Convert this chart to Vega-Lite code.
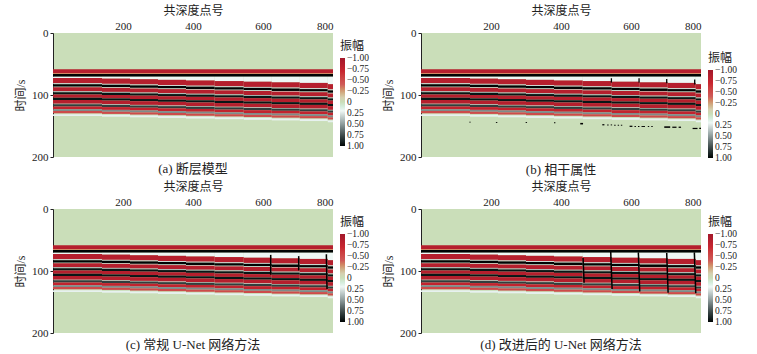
{
"$schema": "https://vega.github.io/schema/vega-lite/v6.json",
"padding": {"left": 14, "top": 4, "right": 2, "bottom": 1},
"background": "white",
"config": {
  "font": "Liberation Serif, Noto Sans CJK SC",
  "view": {"fill": "#cadeb9", "stroke": null},
  "axis": {"grid": false, "labelFontSize": 11, "titleFontSize": 12, "titleFontWeight": "normal", "labelColor": "#222", "titleColor": "#222", "domainColor": "#222", "tickColor": "#222"},
  "legend": {"labelFontSize": 9.5, "titleFontSize": 12, "titleFontWeight": "normal", "labelColor": "#222", "titleColor": "#222", "labelOverlap": false, "gradientStrokeWidth": 0, "gradientLength": 88, "gradientThickness": 5, "labelOffset": 5},
  "title": {"fontSize": 13, "fontWeight": "normal", "color": "#222", "orient": "bottom", "frame": "group", "anchor": "middle", "offset": 1}
},
"datasets": {
"blocks": [{"k":-1,"x0":0,"x1":800},{"k":0,"x0":0,"x1":140},{"k":1,"x0":140,"x1":220},{"k":2,"x0":220,"x1":300},{"k":3,"x0":300,"x1":380},{"k":4,"x0":380,"x1":462},{"k":5,"x0":462,"x1":545},{"k":6,"x0":545,"x1":625},{"k":7,"x0":625,"x1":705},{"k":8,"x0":705,"x1":785},{"k":9,"x0":785,"x1":800}],
"stripes": [
{"k":-1,"t0":58.5,"t1":64.5,"a":-0.85},{"k":-1,"t0":64.5,"t1":66,"a":-0.3},{"k":-1,"t0":66,"t1":70.5,"a":1},
{"k":0,"t0":70.5,"t1":72.5,"a":0.2},{"k":1,"t0":70.5,"t1":73.5,"a":0.2},{"k":2,"t0":70.5,"t1":74.5,"a":0.2},{"k":3,"t0":70.5,"t1":75.5,"a":0.2},{"k":4,"t0":70.5,"t1":76.5,"a":0.2},{"k":5,"t0":70.5,"t1":77.5,"a":0.2},{"k":6,"t0":70.5,"t1":78.5,"a":0.2},{"k":7,"t0":70.5,"t1":79.5,"a":0.2},{"k":8,"t0":70.5,"t1":80.5,"a":0.2},{"k":9,"t0":70.5,"t1":82.5,"a":0.2},
{"k":0,"t0":72.5,"t1":81,"a":-0.85},{"k":0,"t0":81,"t1":82.5,"a":0.3},{"k":0,"t0":82.5,"t1":86.5,"a":1},{"k":0,"t0":86.5,"t1":87.5,"a":0.15},{"k":0,"t0":87.5,"t1":94,"a":-0.85},{"k":0,"t0":94,"t1":95.5,"a":0.4},{"k":0,"t0":95.5,"t1":99,"a":0.95},{"k":0,"t0":99,"t1":104.5,"a":-0.85},{"k":0,"t0":104.5,"t1":108,"a":0.95},{"k":0,"t0":108,"t1":114,"a":-0.85},{"k":0,"t0":114,"t1":115,"a":0.35},{"k":0,"t0":115,"t1":118.5,"a":0.8},{"k":0,"t0":118.5,"t1":123,"a":-0.75},{"k":0,"t0":123,"t1":126,"a":0.55},{"k":0,"t0":126,"t1":129.5,"a":-0.5},{"k":0,"t0":131,"t1":134,"a":0.22},
{"k":1,"t0":73.5,"t1":82,"a":-0.85},{"k":1,"t0":82,"t1":83.5,"a":0.3},{"k":1,"t0":83.5,"t1":87.5,"a":1},{"k":1,"t0":87.5,"t1":88.5,"a":0.15},{"k":1,"t0":88.5,"t1":95,"a":-0.85},{"k":1,"t0":95,"t1":96.5,"a":0.4},{"k":1,"t0":96.5,"t1":100,"a":0.95},{"k":1,"t0":100,"t1":105.5,"a":-0.85},{"k":1,"t0":105.5,"t1":109,"a":0.95},{"k":1,"t0":109,"t1":115,"a":-0.85},{"k":1,"t0":115,"t1":116,"a":0.35},{"k":1,"t0":116,"t1":119.5,"a":0.8},{"k":1,"t0":119.5,"t1":124,"a":-0.75},{"k":1,"t0":124,"t1":127,"a":0.55},{"k":1,"t0":127,"t1":130.5,"a":-0.5},{"k":1,"t0":132,"t1":135,"a":0.22},
{"k":2,"t0":74.5,"t1":83,"a":-0.85},{"k":2,"t0":83,"t1":84.5,"a":0.3},{"k":2,"t0":84.5,"t1":88.5,"a":1},{"k":2,"t0":88.5,"t1":89.5,"a":0.15},{"k":2,"t0":89.5,"t1":96,"a":-0.85},{"k":2,"t0":96,"t1":97.5,"a":0.4},{"k":2,"t0":97.5,"t1":101,"a":0.95},{"k":2,"t0":101,"t1":106.5,"a":-0.85},{"k":2,"t0":106.5,"t1":110,"a":0.95},{"k":2,"t0":110,"t1":116,"a":-0.85},{"k":2,"t0":116,"t1":117,"a":0.35},{"k":2,"t0":117,"t1":120.5,"a":0.8},{"k":2,"t0":120.5,"t1":125,"a":-0.75},{"k":2,"t0":125,"t1":128,"a":0.55},{"k":2,"t0":128,"t1":131.5,"a":-0.5},{"k":2,"t0":133,"t1":136,"a":0.22},
{"k":3,"t0":75.5,"t1":84,"a":-0.85},{"k":3,"t0":84,"t1":85.5,"a":0.3},{"k":3,"t0":85.5,"t1":89.5,"a":1},{"k":3,"t0":89.5,"t1":90.5,"a":0.15},{"k":3,"t0":90.5,"t1":97,"a":-0.85},{"k":3,"t0":97,"t1":98.5,"a":0.4},{"k":3,"t0":98.5,"t1":102,"a":0.95},{"k":3,"t0":102,"t1":107.5,"a":-0.85},{"k":3,"t0":107.5,"t1":111,"a":0.95},{"k":3,"t0":111,"t1":117,"a":-0.85},{"k":3,"t0":117,"t1":118,"a":0.35},{"k":3,"t0":118,"t1":121.5,"a":0.8},{"k":3,"t0":121.5,"t1":126,"a":-0.75},{"k":3,"t0":126,"t1":129,"a":0.55},{"k":3,"t0":129,"t1":132.5,"a":-0.5},{"k":3,"t0":134,"t1":137,"a":0.22},
{"k":4,"t0":76.5,"t1":85,"a":-0.85},{"k":4,"t0":85,"t1":86.5,"a":0.3},{"k":4,"t0":86.5,"t1":90.5,"a":1},{"k":4,"t0":90.5,"t1":91.5,"a":0.15},{"k":4,"t0":91.5,"t1":98,"a":-0.85},{"k":4,"t0":98,"t1":99.5,"a":0.4},{"k":4,"t0":99.5,"t1":103,"a":0.95},{"k":4,"t0":103,"t1":108.5,"a":-0.85},{"k":4,"t0":108.5,"t1":112,"a":0.95},{"k":4,"t0":112,"t1":118,"a":-0.85},{"k":4,"t0":118,"t1":119,"a":0.35},{"k":4,"t0":119,"t1":122.5,"a":0.8},{"k":4,"t0":122.5,"t1":127,"a":-0.75},{"k":4,"t0":127,"t1":130,"a":0.55},{"k":4,"t0":130,"t1":133.5,"a":-0.5},{"k":4,"t0":135,"t1":138,"a":0.22},
{"k":5,"t0":77.5,"t1":86,"a":-0.85},{"k":5,"t0":86,"t1":87.5,"a":0.3},{"k":5,"t0":87.5,"t1":91.5,"a":1},{"k":5,"t0":91.5,"t1":92.5,"a":0.15},{"k":5,"t0":92.5,"t1":99,"a":-0.85},{"k":5,"t0":99,"t1":100.5,"a":0.4},{"k":5,"t0":100.5,"t1":104,"a":0.95},{"k":5,"t0":104,"t1":109.5,"a":-0.85},{"k":5,"t0":109.5,"t1":113,"a":0.95},{"k":5,"t0":113,"t1":119,"a":-0.85},{"k":5,"t0":119,"t1":120,"a":0.35},{"k":5,"t0":120,"t1":123.5,"a":0.8},{"k":5,"t0":123.5,"t1":128,"a":-0.75},{"k":5,"t0":128,"t1":131,"a":0.55},{"k":5,"t0":131,"t1":134.5,"a":-0.5},{"k":5,"t0":136,"t1":139,"a":0.22},
{"k":6,"t0":78.5,"t1":87,"a":-0.85},{"k":6,"t0":87,"t1":88.5,"a":0.3},{"k":6,"t0":88.5,"t1":92.5,"a":1},{"k":6,"t0":92.5,"t1":93.5,"a":0.15},{"k":6,"t0":93.5,"t1":100,"a":-0.85},{"k":6,"t0":100,"t1":101.5,"a":0.4},{"k":6,"t0":101.5,"t1":105,"a":0.95},{"k":6,"t0":105,"t1":110.5,"a":-0.85},{"k":6,"t0":110.5,"t1":114,"a":0.95},{"k":6,"t0":114,"t1":120,"a":-0.85},{"k":6,"t0":120,"t1":121,"a":0.35},{"k":6,"t0":121,"t1":124.5,"a":0.8},{"k":6,"t0":124.5,"t1":129,"a":-0.75},{"k":6,"t0":129,"t1":132,"a":0.55},{"k":6,"t0":132,"t1":135.5,"a":-0.5},{"k":6,"t0":137,"t1":140,"a":0.22},
{"k":7,"t0":79.5,"t1":88,"a":-0.85},{"k":7,"t0":88,"t1":89.5,"a":0.3},{"k":7,"t0":89.5,"t1":93.5,"a":1},{"k":7,"t0":93.5,"t1":94.5,"a":0.15},{"k":7,"t0":94.5,"t1":101,"a":-0.85},{"k":7,"t0":101,"t1":102.5,"a":0.4},{"k":7,"t0":102.5,"t1":106,"a":0.95},{"k":7,"t0":106,"t1":111.5,"a":-0.85},{"k":7,"t0":111.5,"t1":115,"a":0.95},{"k":7,"t0":115,"t1":121,"a":-0.85},{"k":7,"t0":121,"t1":122,"a":0.35},{"k":7,"t0":122,"t1":125.5,"a":0.8},{"k":7,"t0":125.5,"t1":130,"a":-0.75},{"k":7,"t0":130,"t1":133,"a":0.55},{"k":7,"t0":133,"t1":136.5,"a":-0.5},{"k":7,"t0":138,"t1":141,"a":0.22},
{"k":8,"t0":80.5,"t1":89,"a":-0.85},{"k":8,"t0":89,"t1":90.5,"a":0.3},{"k":8,"t0":90.5,"t1":94.5,"a":1},{"k":8,"t0":94.5,"t1":95.5,"a":0.15},{"k":8,"t0":95.5,"t1":102,"a":-0.85},{"k":8,"t0":102,"t1":103.5,"a":0.4},{"k":8,"t0":103.5,"t1":107,"a":0.95},{"k":8,"t0":107,"t1":112.5,"a":-0.85},{"k":8,"t0":112.5,"t1":116,"a":0.95},{"k":8,"t0":116,"t1":122,"a":-0.85},{"k":8,"t0":122,"t1":123,"a":0.35},{"k":8,"t0":123,"t1":126.5,"a":0.8},{"k":8,"t0":126.5,"t1":131,"a":-0.75},{"k":8,"t0":131,"t1":134,"a":0.55},{"k":8,"t0":134,"t1":137.5,"a":-0.5},{"k":8,"t0":139,"t1":142,"a":0.22},
{"k":9,"t0":82.5,"t1":91,"a":-0.85},{"k":9,"t0":91,"t1":92.5,"a":0.3},{"k":9,"t0":92.5,"t1":96.5,"a":1},{"k":9,"t0":96.5,"t1":97.5,"a":0.15},{"k":9,"t0":97.5,"t1":104,"a":-0.85},{"k":9,"t0":104,"t1":105.5,"a":0.4},{"k":9,"t0":105.5,"t1":109,"a":0.95},{"k":9,"t0":109,"t1":114.5,"a":-0.85},{"k":9,"t0":114.5,"t1":118,"a":0.95},{"k":9,"t0":118,"t1":124,"a":-0.85},{"k":9,"t0":124,"t1":125,"a":0.35},{"k":9,"t0":125,"t1":128.5,"a":0.8},{"k":9,"t0":128.5,"t1":133,"a":-0.75},{"k":9,"t0":133,"t1":136,"a":0.55},{"k":9,"t0":136,"t1":139.5,"a":-0.5},{"k":9,"t0":141,"t1":144,"a":0.22}
]
},
"columns": 2,
"spacing": {"row": 3, "column": 13},
"resolve": {"scale": {"color": "independent"}, "legend": {"color": "independent"}},
"concat": [
{
 "width": 280, "height": 124,
 "title": {"text": "(a) 断层模型"},
 "layer": [
  {
   "data": {"name": "stripes"},
   "transform": [{"lookup": "k", "from": {"data": {"name": "blocks"}, "key": "k", "fields": ["x0", "x1"]}}],
   "mark": {"type": "rect"},
   "encoding": {
     "x": {"field": "x0", "type": "quantitative", "scale": {"domain": [0, 800], "nice": false}, "axis": {"orient": "top", "values": [200, 400, 600, 800], "title": "共深度点号", "domain": false, "ticks": false, "labelPadding": 2, "titlePadding": 3}},
     "x2": {"field": "x1"},
     "y": {"field": "t0", "type": "quantitative", "scale": {"domain": [0, 200], "reverse": true, "nice": false}, "axis": {"values": [0, 100, 200], "title": "时间/s", "tickSize": 3, "labelPadding": 2, "titlePadding": 4}},
     "y2": {"field": "t1"},
     "color": {"field": "a", "type": "quantitative", "scale": {"domain": [1, 0.5, 0.2, 0, -0.12, -0.4, -0.7, -1], "range": ["#000000", "#8e9c9c", "#eef7f5", "#cadeb9", "#d6cdb0", "#cf5a58", "#c8262f", "#a3182a"], "nice": false, "zero": false},
       "legend": {"title": "振幅", "orient": "none", "legendX": 287, "legendY": 8, "direction": "vertical", "values": [-1, -0.75, -0.5, -0.25, 0, 0.25, 0.5, 0.75, 1], "labelExpr": "datum.value === 0 ? '0' : format(datum.value, '.2f')", "encode": {"labels": {"update": {"baseline": {"value": "middle"}}}}}}
   }
  }
 ]
},
{
 "width": 280, "height": 124,
 "title": {"text": "(b) 相干属性"},
 "layer": [
  {
   "data": {"name": "stripes"},
   "transform": [{"lookup": "k", "from": {"data": {"name": "blocks"}, "key": "k", "fields": ["x0", "x1"]}}],
   "mark": {"type": "rect"},
   "encoding": {
     "x": {"field": "x0", "type": "quantitative", "scale": {"domain": [0, 800], "nice": false}, "axis": {"orient": "top", "values": [200, 400, 600, 800], "title": "共深度点号", "domain": false, "ticks": false, "labelPadding": 2, "titlePadding": 3}},
     "x2": {"field": "x1"},
     "y": {"field": "t0", "type": "quantitative", "scale": {"domain": [0, 200], "reverse": true, "nice": false}, "axis": {"values": [0, 100, 200], "title": "时间/s", "tickSize": 3, "labelPadding": 2, "titlePadding": 4}},
     "y2": {"field": "t1"},
     "color": {"field": "a", "type": "quantitative", "scale": {"domain": [1, 0.5, 0.2, 0, -0.12, -0.4, -0.7, -1], "range": ["#000000", "#8e9c9c", "#eef7f5", "#cadeb9", "#d6cdb0", "#cf5a58", "#c8262f", "#a3182a"], "nice": false, "zero": false},
       "legend": {"title": "振幅", "orient": "none", "legendX": 287, "legendY": 20, "direction": "vertical", "values": [-1, -0.75, -0.5, -0.25, 0, 0.25, 0.5, 0.75, 1], "labelExpr": "datum.value === 0 ? '0' : format(datum.value, '.2f')", "encode": {"labels": {"update": {"baseline": {"value": "middle"}}}}}}
   }
  },
  {
   "data": {"values": [
     {"x": 138, "x2": 142, "y": 143, "y2": 144.5}, {"x": 214, "x2": 218, "y": 143.5, "y2": 145}, {"x": 299, "x2": 303, "y": 143.5, "y2": 145}, {"x": 380, "x2": 384, "y": 144, "y2": 145.5},
     {"x": 455, "x2": 463, "y": 145, "y2": 147.5}, {"x": 518, "x2": 524, "y": 147, "y2": 149}, {"x": 532, "x2": 536, "y": 147.5, "y2": 149}, {"x": 542, "x2": 546, "y": 147.5, "y2": 149}, {"x": 552, "x2": 556, "y": 148, "y2": 149.5}, {"x": 562, "x2": 566, "y": 148, "y2": 149.5}, {"x": 571, "x2": 575, "y": 148, "y2": 149.5},
     {"x": 596, "x2": 604, "y": 149.5, "y2": 151.5}, {"x": 610, "x2": 614, "y": 150, "y2": 151.5}, {"x": 620, "x2": 624, "y": 150, "y2": 151.5}, {"x": 630, "x2": 640, "y": 150, "y2": 151.5}, {"x": 648, "x2": 652, "y": 150, "y2": 151.5}, {"x": 658, "x2": 662, "y": 150, "y2": 151.5},
     {"x": 695, "x2": 712, "y": 150.5, "y2": 153}, {"x": 718, "x2": 730, "y": 151, "y2": 153}, {"x": 736, "x2": 743, "y": 151, "y2": 153},
     {"x": 776, "x2": 790, "y": 153, "y2": 155}, {"x": 795, "x2": 800, "y": 153, "y2": 155}
   ]},
   "mark": {"type": "rect", "color": "#000000"},
   "encoding": {"x": {"field": "x", "type": "quantitative"}, "x2": {"field": "x2"}, "y": {"field": "y", "type": "quantitative"}, "y2": {"field": "y2"}}
  },
  {
   "data": {"values": [{"x": 544, "y": 73, "y2": 80}, {"x": 623, "y": 73, "y2": 80}, {"x": 702, "y": 74, "y2": 81}, {"x": 782, "y": 75, "y2": 83}]},
   "mark": {"type": "rule", "color": "#000000", "strokeWidth": 1.3},
   "encoding": {"x": {"field": "x", "type": "quantitative"}, "y": {"field": "y", "type": "quantitative"}, "y2": {"field": "y2"}}
  }
 ]
},
{
 "width": 280, "height": 124,
 "title": {"text": "(c) 常规 U-Net 网络方法"},
 "layer": [
  {
   "data": {"name": "stripes"},
   "transform": [{"lookup": "k", "from": {"data": {"name": "blocks"}, "key": "k", "fields": ["x0", "x1"]}}],
   "mark": {"type": "rect"},
   "encoding": {
     "x": {"field": "x0", "type": "quantitative", "scale": {"domain": [0, 800], "nice": false}, "axis": {"orient": "top", "values": [200, 400, 600, 800], "title": "共深度点号", "domain": false, "ticks": false, "labelPadding": 2, "titlePadding": 3}},
     "x2": {"field": "x1"},
     "y": {"field": "t0", "type": "quantitative", "scale": {"domain": [0, 200], "reverse": true, "nice": false}, "axis": {"values": [0, 100, 200], "title": "时间/s", "tickSize": 3, "labelPadding": 2, "titlePadding": 4}},
     "y2": {"field": "t1"},
     "color": {"field": "a", "type": "quantitative", "scale": {"domain": [1, 0.5, 0.2, 0, -0.12, -0.4, -0.7, -1], "range": ["#000000", "#8e9c9c", "#eef7f5", "#cadeb9", "#d6cdb0", "#cf5a58", "#c8262f", "#a3182a"], "nice": false, "zero": false},
       "legend": {"title": "振幅", "orient": "none", "legendX": 287, "legendY": 8, "direction": "vertical", "values": [-1, -0.75, -0.5, -0.25, 0, 0.25, 0.5, 0.75, 1], "labelExpr": "datum.value === 0 ? '0' : format(datum.value, '.2f')", "encode": {"labels": {"update": {"baseline": {"value": "middle"}}}}}}
   }
  },
  {
   "data": {"values": [{"x": 622, "x2": 622, "y": 74, "y2": 106}, {"x": 702, "x2": 702, "y": 76, "y2": 99}, {"x": 781, "x2": 783, "y": 73, "y2": 129}]},
   "mark": {"type": "rule", "color": "#000000", "strokeWidth": 1.5},
   "encoding": {"x": {"field": "x", "type": "quantitative"}, "x2": {"field": "x2"}, "y": {"field": "y", "type": "quantitative"}, "y2": {"field": "y2"}}
  }
 ]
},
{
 "width": 280, "height": 124,
 "title": {"text": "(d) 改进后的 U-Net 网络方法"},
 "layer": [
  {
   "data": {"name": "stripes"},
   "transform": [{"lookup": "k", "from": {"data": {"name": "blocks"}, "key": "k", "fields": ["x0", "x1"]}}],
   "mark": {"type": "rect"},
   "encoding": {
     "x": {"field": "x0", "type": "quantitative", "scale": {"domain": [0, 800], "nice": false}, "axis": {"orient": "top", "values": [200, 400, 600, 800], "title": "共深度点号", "domain": false, "ticks": false, "labelPadding": 2, "titlePadding": 3}},
     "x2": {"field": "x1"},
     "y": {"field": "t0", "type": "quantitative", "scale": {"domain": [0, 200], "reverse": true, "nice": false}, "axis": {"values": [0, 100, 200], "title": "时间/s", "tickSize": 3, "labelPadding": 2, "titlePadding": 4}},
     "y2": {"field": "t1"},
     "color": {"field": "a", "type": "quantitative", "scale": {"domain": [1, 0.5, 0.2, 0, -0.12, -0.4, -0.7, -1], "range": ["#000000", "#8e9c9c", "#eef7f5", "#cadeb9", "#d6cdb0", "#cf5a58", "#c8262f", "#a3182a"], "nice": false, "zero": false},
       "legend": {"title": "振幅", "orient": "none", "legendX": 287, "legendY": 8, "direction": "vertical", "values": [-1, -0.75, -0.5, -0.25, 0, 0.25, 0.5, 0.75, 1], "labelExpr": "datum.value === 0 ? '0' : format(datum.value, '.2f')", "encode": {"labels": {"update": {"baseline": {"value": "middle"}}}}}}
   }
  },
  {
   "data": {"values": [{"x": 463, "x2": 466, "y": 79, "y2": 119}, {"x": 542, "x2": 546, "y": 69, "y2": 129}, {"x": 621, "x2": 625, "y": 70, "y2": 133}, {"x": 702, "x2": 706, "y": 71, "y2": 135}, {"x": 781, "x2": 785, "y": 70, "y2": 136}]},
   "mark": {"type": "rule", "color": "#000000", "strokeWidth": 1.5},
   "encoding": {"x": {"field": "x", "type": "quantitative"}, "x2": {"field": "x2"}, "y": {"field": "y", "type": "quantitative"}, "y2": {"field": "y2"}}
  }
 ]
}
]
}
